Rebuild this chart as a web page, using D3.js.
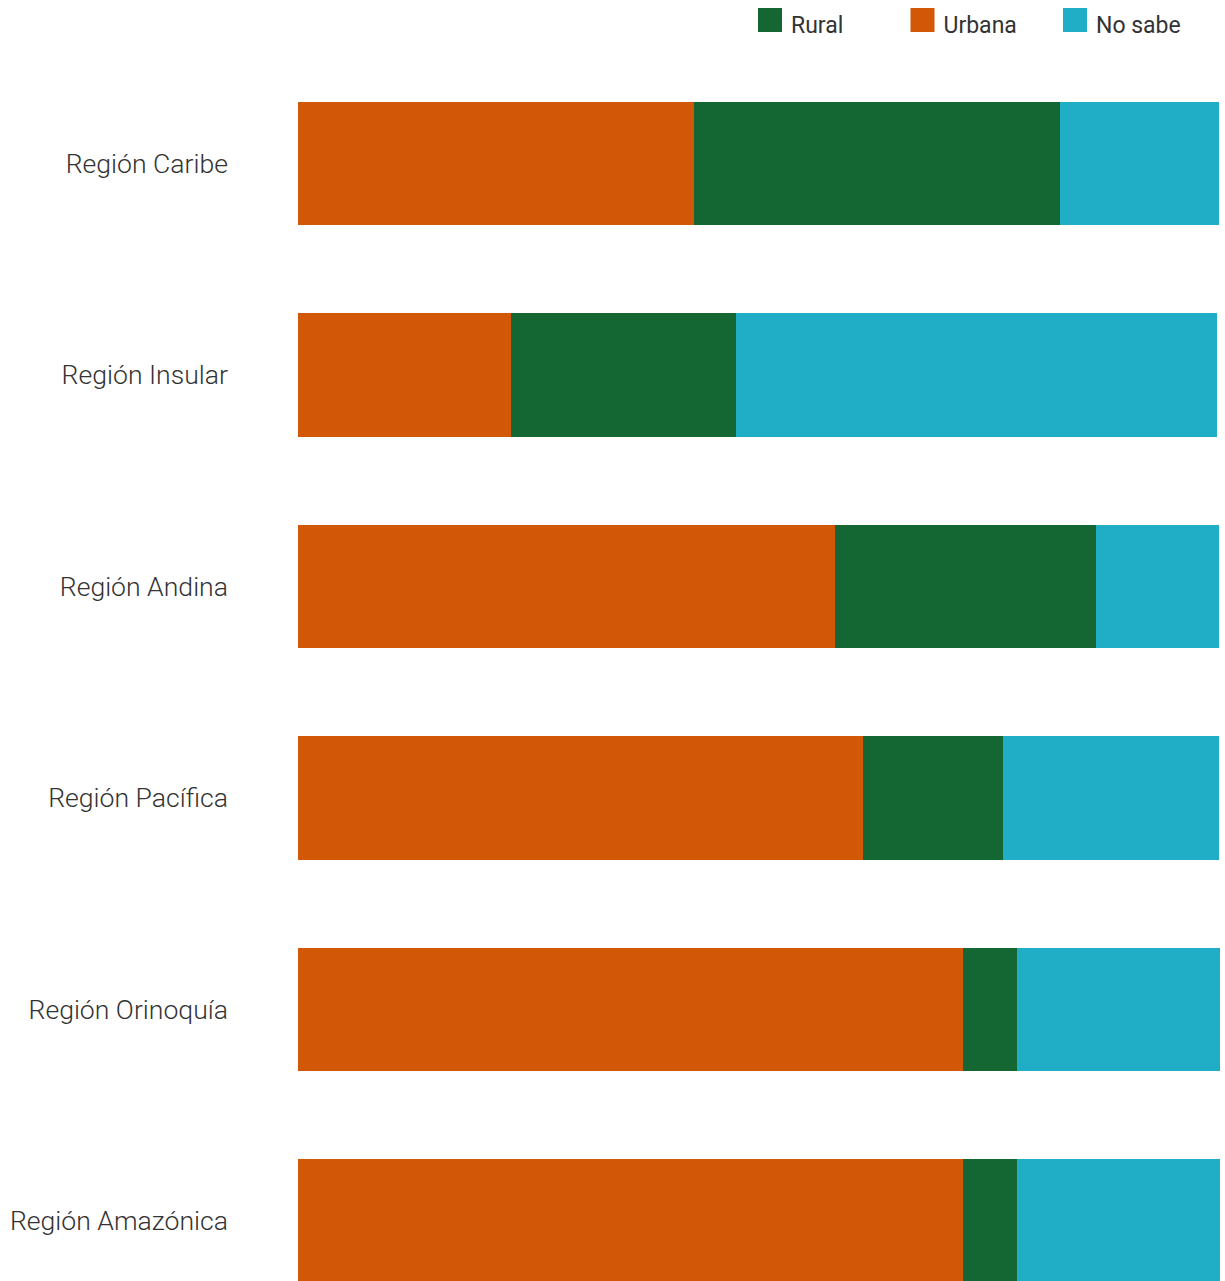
<!DOCTYPE html>
<html>
<head>
<meta charset="utf-8">
<script src="https://cdn.jsdelivr.net/npm/d3@7"></script>
<style>
  body { margin: 0; background: #fff; }
  svg { display: block; font-family: Roboto, "Noto Sans", sans-serif; }
</style>
</head>
<body>
<div id="graph"></div>
<script>
var regions = ["Región Caribe", "Región Insular", "Región Andina", "Región Pacífica", "Región Orinoquía", "Región Amazónica"];
var urbana = [43.0, 23.1, 58.3, 61.3, 72.2, 72.2];
var rural = [39.7, 24.5, 28.3, 15.2, 5.9, 5.9];
var noSabe = [17.3, 52.2, 13.4, 23.5, 22.0, 22.0];
var legendKeys = ["Rural", "Urbana", "No sabe"];

var w = 1225;
var h = 1281;

var vis = d3.select("#graph")
  .append("svg")
  .attr("width", w)
  .attr("height", h);

var colors = {"Urbana": "#d25706", "Rural": "#146733", "No sabe": "#1faec5"};

var rows = regions.map(function(r, i) {
  return {region: r, "Urbana": urbana[i], "Rural": rural[i], "No sabe": noSabe[i]};
});

var stack = d3.stack().keys(["Urbana", "Rural", "No sabe"]);
var series = stack(rows);

var x = d3.scaleLinear().domain([0, 100]).range([298, 1219]);
var y = d3.scaleBand()
  .domain(regions)
  .range([57.75, 57.75 + 6 * 211.5])
  .paddingInner(0.414)
  .paddingOuter(0.207);

vis.selectAll(".serie")
  .data(series)
  .enter()
  .append("g")
  .attr("class", "serie")
  .attr("fill", function(d) { return colors[d.key]; })
  .attr("shape-rendering", "crispEdges")
  .selectAll("rect")
  .data(function(d) { return d; })
  .enter()
  .append("rect")
  .attr("x", function(d) { return x(d[0]); })
  .attr("width", function(d) { return x(d[1]) - x(d[0]); })
  .attr("y", function(d) { return y(d.data.region); })
  .attr("height", y.bandwidth());

// region labels
vis.selectAll(".label")
  .data(regions)
  .enter()
  .append("text")
  .attr("class", "label")
  .attr("x", 228)
  .attr("y", function(d) { return y(d) + y.bandwidth() / 2; })
  .attr("dy", "0.35em")
  .attr("text-anchor", "end")
  .attr("font-size", 26.6)
  .attr("font-weight", 300)
  .attr("fill", "#333")
  .text(function(d) { return d; });

// legend
var leg = vis.selectAll(".legend")
  .data(legendKeys)
  .enter()
  .append("g")
  .attr("class", "legend")
  .attr("transform", function(d, i) { return "translate(" + (758 + i * 152.5) + ",8)"; });

leg.append("rect")
  .attr("width", 24)
  .attr("height", 24)
  .attr("fill", function(d) { return colors[d]; });

leg.append("text")
  .attr("x", 33)
  .attr("y", 17)
  .attr("dy", "0.36em")
  .attr("font-size", 23)
  .attr("fill", "#333")
  .text(function(d) { return d; });
</script>
</body>
</html>
